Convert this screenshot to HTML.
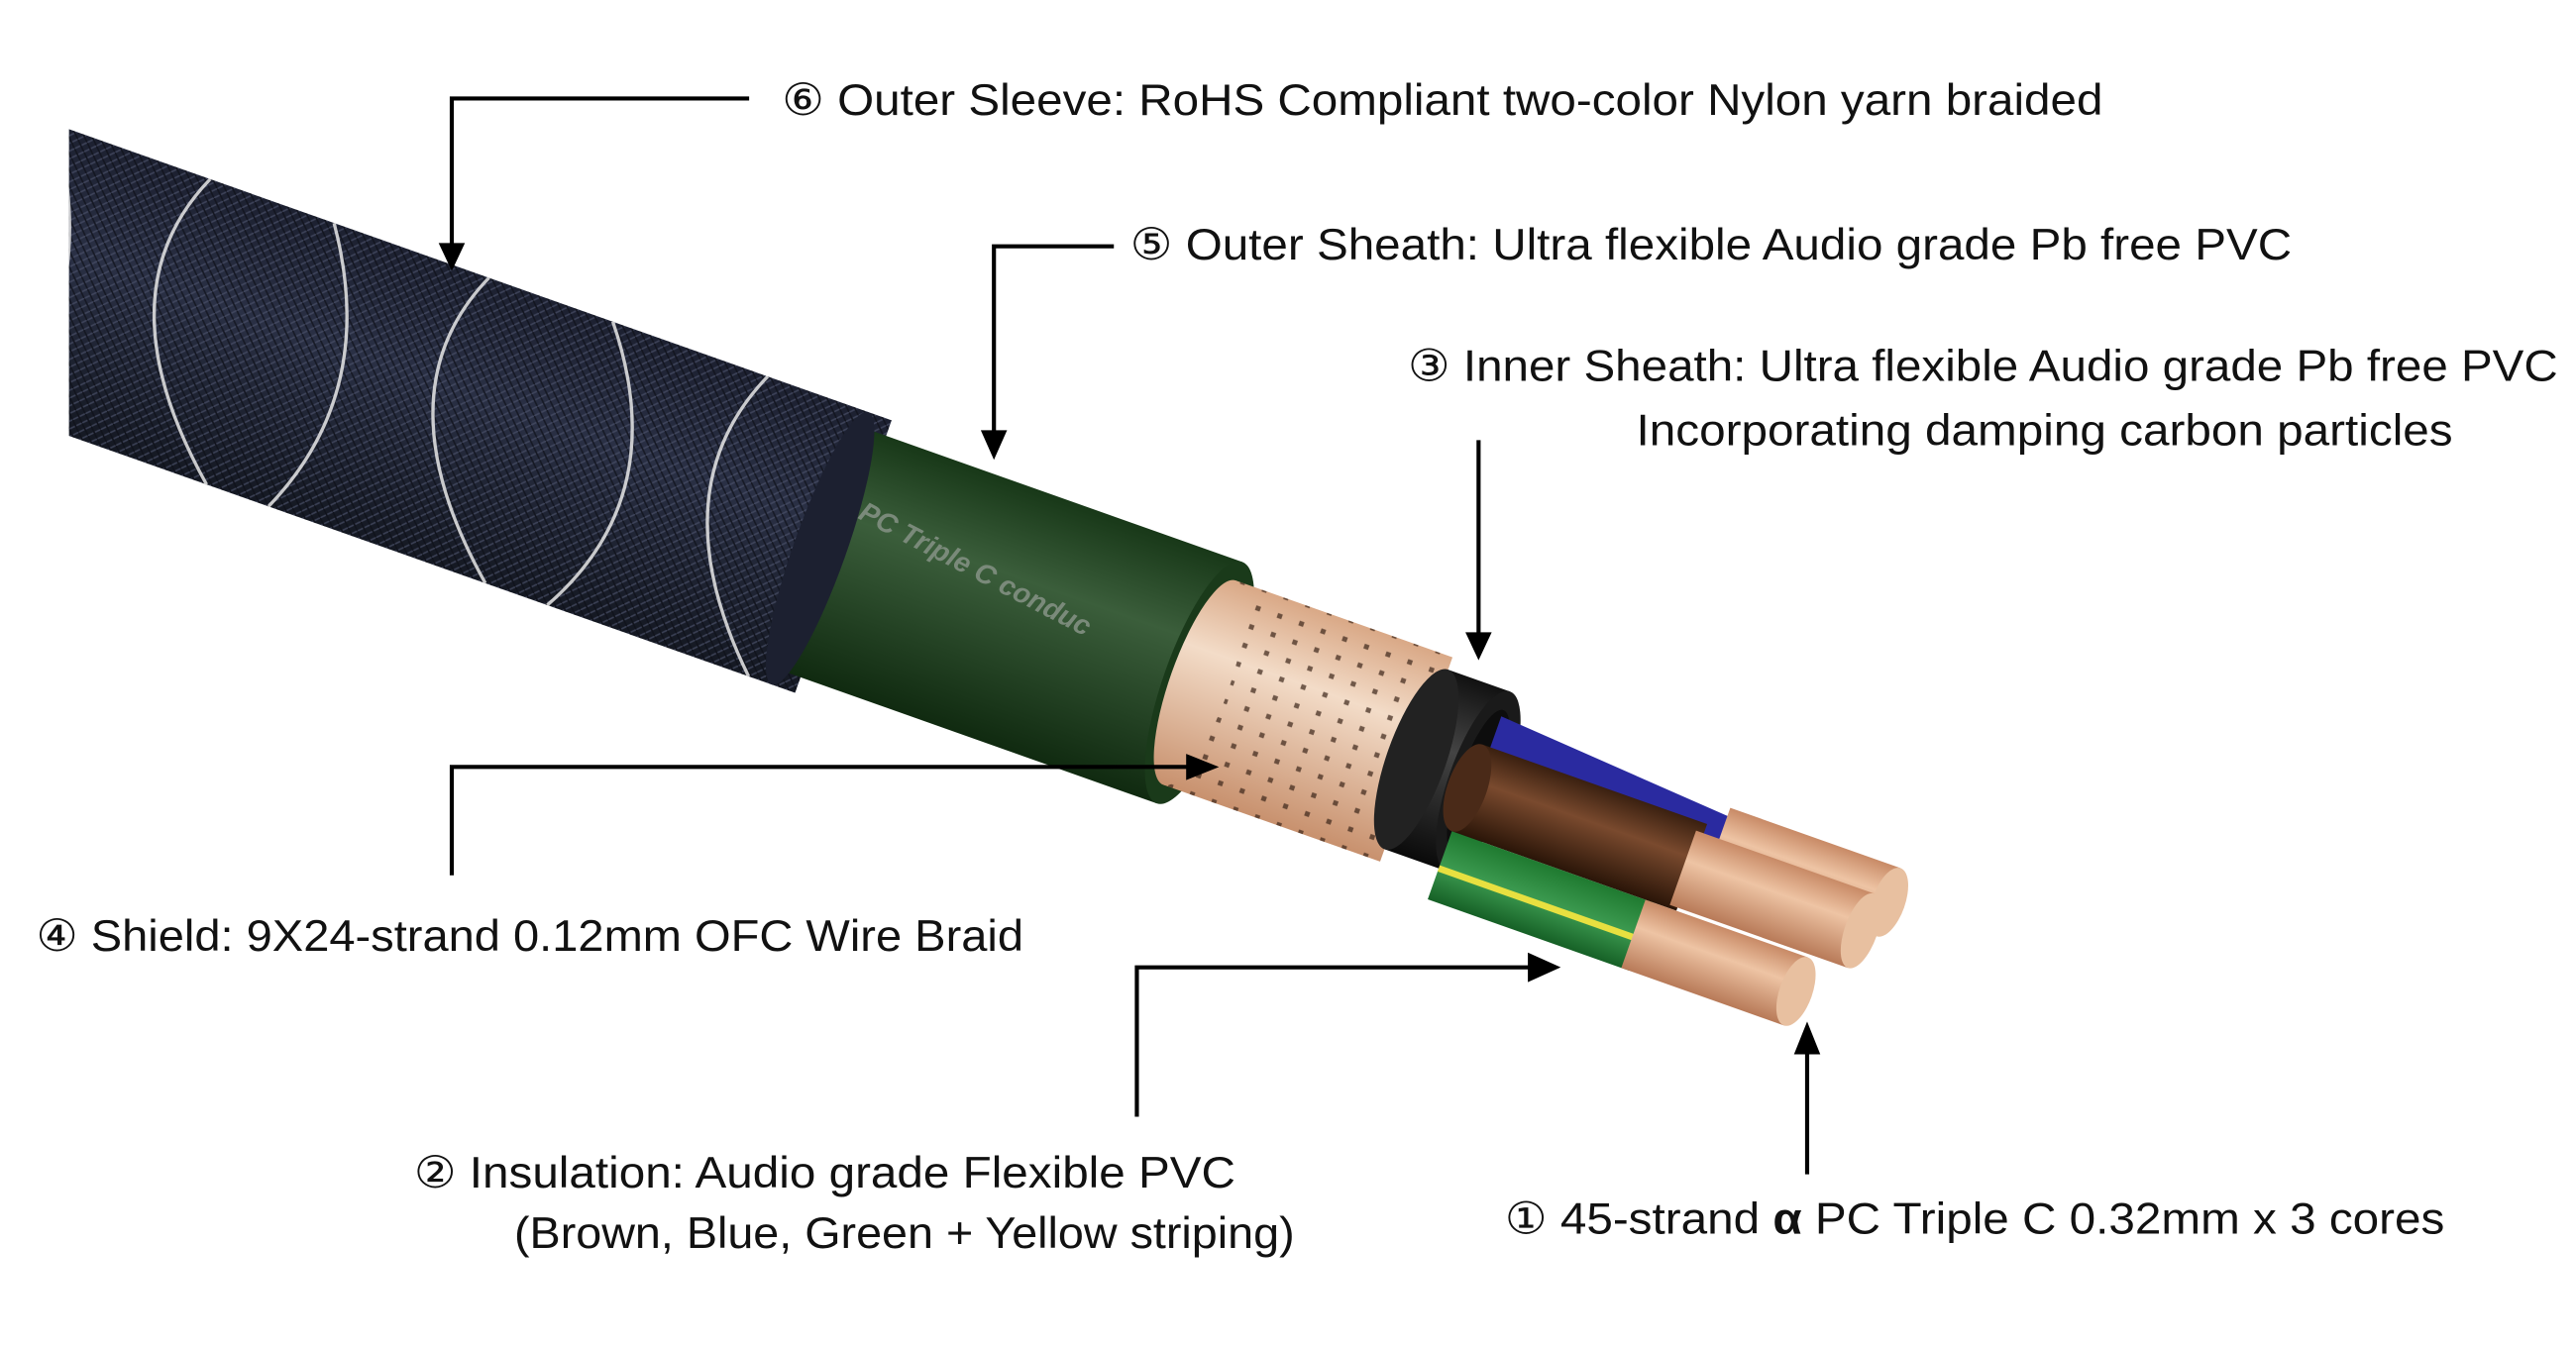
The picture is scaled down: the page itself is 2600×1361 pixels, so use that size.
<!DOCTYPE html>
<html><head><meta charset="utf-8"><style>html,body{margin:0;padding:0;background:#fff}svg{display:block}</style></head>
<body>
<svg width="2600" height="1361" viewBox="0 0 1568 820.8" preserveAspectRatio="none" xmlns="http://www.w3.org/2000/svg">
<defs>
<clipPath id="cl"><rect x="42" y="0" width="1600" height="900"/></clipPath>
<linearGradient id="gb" x1="0" y1="0" x2="0" y2="1"><stop offset="0" stop-color="#1c2030"/><stop offset="0.4" stop-color="#2a3045"/><stop offset="1" stop-color="#141822"/></linearGradient>
<linearGradient id="gg" x1="0" y1="0" x2="0" y2="1"><stop offset="0" stop-color="#183818"/><stop offset="0.35" stop-color="#3b5e3b"/><stop offset="1" stop-color="#102a10"/></linearGradient>
<linearGradient id="gc" x1="0" y1="0" x2="0" y2="1"><stop offset="0" stop-color="#d9a886"/><stop offset="0.35" stop-color="#f3dcc8"/><stop offset="1" stop-color="#c8916e"/></linearGradient>
<linearGradient id="gk" x1="0" y1="0" x2="0" y2="1"><stop offset="0" stop-color="#111"/><stop offset="0.4" stop-color="#444"/><stop offset="1" stop-color="#0a0a0a"/></linearGradient>
<linearGradient id="gbr" x1="0" y1="0" x2="0" y2="1"><stop offset="0" stop-color="#3a2010"/><stop offset="0.4" stop-color="#7a4a2e"/><stop offset="1" stop-color="#2a1508"/></linearGradient>
<linearGradient id="ggr" x1="0" y1="0" x2="0" y2="1"><stop offset="0" stop-color="#1f7a30"/><stop offset="0.5" stop-color="#3c9a50"/><stop offset="1" stop-color="#166026"/></linearGradient>
<linearGradient id="gcu" x1="0" y1="0" x2="0" y2="1"><stop offset="0" stop-color="#c88a66"/><stop offset="0.4" stop-color="#eec4a4"/><stop offset="1" stop-color="#b87a58"/></linearGradient>
<pattern id="dots" width="14" height="12" patternUnits="userSpaceOnUse"><rect width="3" height="3" x="5" y="4" fill="#3a2418"/></pattern>
<pattern id="wv" width="6" height="6" patternUnits="userSpaceOnUse"><path d="M0 6L6 0" stroke="#4a5068" stroke-width="1"/><path d="M0 0L6 6" stroke="#0e1018" stroke-width="1"/></pattern>
</defs>
<g clip-path="url(#cl)">
<g transform="translate(42,172) rotate(19.5)">
  <rect x="-80" y="-88" width="580" height="176" fill="url(#gb)"/>
  <rect x="-80" y="-88" width="580" height="176" fill="url(#wv)" opacity="0.7"/>
  <g stroke="#e8e8e8" stroke-width="2" fill="none" opacity="0.85">
    <path d="M-40 -88 Q20 0 -10 88"/><path d="M60 -88 Q20 0 120 88"/><path d="M140 -88 Q200 0 160 88"/><path d="M240 -88 Q200 0 300 88"/><path d="M320 -88 Q390 0 340 88"/><path d="M420 -88 Q380 0 470 88"/>
  </g>
  <rect x="480" y="-78" width="250" height="156" fill="url(#gg)"/>
  <ellipse cx="485" cy="0" rx="16" ry="88" fill="#1c2030"/>
  <text x="500" y="-25" font-family="Liberation Sans, sans-serif" font-style="italic" font-weight="bold" font-size="17" fill="#7a8a7a" transform="rotate(8 500 -25)">PC Triple C conduc</text>
  <ellipse cx="730" cy="0" rx="22" ry="78" fill="#1a3a1a"/>
  <rect x="730" y="-66" width="140" height="132" fill="url(#gc)"/>
  <rect x="730" y="-66" width="140" height="132" fill="url(#dots)" opacity="0.7"/>
  <ellipse cx="730" cy="0" rx="18" ry="66" fill="url(#gc)"/>
  <rect x="870" y="-58" width="40" height="116" fill="url(#gk)"/>
  <ellipse cx="870" cy="0" rx="18" ry="58" fill="#222"/>
  <ellipse cx="910" cy="0" rx="18" ry="58" fill="#1a1a1a"/>
  <ellipse cx="910" cy="0" rx="12" ry="46" fill="#0d0d0d"/>
  <!-- blue -->
  <path d="M910 -42 L1070 -30 L1070 6 L910 6Z" fill="#2a2aa0"/>
  <!-- copper strands top -->
  <rect x="1060" y="-36" width="110" height="44" fill="url(#gcu)"/>
  <ellipse cx="1170" cy="-14" rx="10" ry="22" fill="#e8c0a0"/>
  <!-- brown -->
  <rect x="905" y="-22" width="145" height="56" fill="url(#gbr)"/>
  <ellipse cx="905" cy="6" rx="12" ry="28" fill="#4a2a18"/>
  <rect x="1045" y="-16" width="115" height="48" fill="url(#gcu)"/>
  <ellipse cx="1160" cy="8" rx="10" ry="24" fill="#e8c0a0"/>
  <!-- green -->
  <rect x="905" y="34" width="130" height="44" fill="url(#ggr)"/>
  <rect x="905" y="56" width="130" height="4" fill="#e8e040"/>
  <rect x="1030" y="34" width="105" height="44" fill="url(#gcu)"/>
  <ellipse cx="1135" cy="56" rx="10" ry="22" fill="#e8c0a0"/>
</g>
</g>
<g stroke="#000" stroke-width="2.5" fill="none">
  <path d="M456 60H275V150"/>
  <path d="M678 150H605V265"/>
  <path d="M900 268V388"/>
  <path d="M275 533V467H725"/>
  <path d="M692 680V589H932"/>
  <path d="M1100 715V640"/>
</g>
<g fill="#000">
  <path d="M267 148L283 148L275 165Z"/>
  <path d="M597 262L613 262L605 280Z"/>
  <path d="M892 385L908 385L900 402Z"/>
  <path d="M722 459L722 475L742 467Z"/>
  <path d="M930 580L930 598L950 589Z"/>
  <path d="M1092 642L1108 642L1100 622Z"/>
</g>
<g font-family="Liberation Sans, DejaVu Sans, sans-serif" font-size="27" fill="#111" lengthAdjust="spacingAndGlyphs">
  <text x="476" y="70" textLength="804" lengthAdjust="spacingAndGlyphs">⑥ Outer Sleeve: RoHS Compliant two-color Nylon yarn braided</text>
  <text x="688" y="158" textLength="707" lengthAdjust="spacingAndGlyphs">⑤ Outer Sheath: Ultra flexible Audio grade Pb free PVC</text>
  <text x="857" y="232" textLength="700" lengthAdjust="spacingAndGlyphs">③ Inner Sheath: Ultra flexible Audio grade Pb free PVC</text>
  <text x="996" y="271" textLength="497" lengthAdjust="spacingAndGlyphs">Incorporating damping carbon particles</text>
  <text x="22" y="579" textLength="601" lengthAdjust="spacingAndGlyphs">④ Shield: 9X24-strand 0.12mm OFC Wire Braid</text>
  <text x="252" y="723" textLength="500" lengthAdjust="spacingAndGlyphs">② Insulation: Audio grade Flexible PVC</text>
  <text x="313" y="760" textLength="475" lengthAdjust="spacingAndGlyphs">(Brown, Blue, Green + Yellow striping)</text>
  <text x="916" y="751" textLength="572" lengthAdjust="spacingAndGlyphs">①  45-strand <tspan font-weight="bold">α</tspan> PC Triple C 0.32mm x 3 cores</text>
</g>
</svg>
</body></html>
